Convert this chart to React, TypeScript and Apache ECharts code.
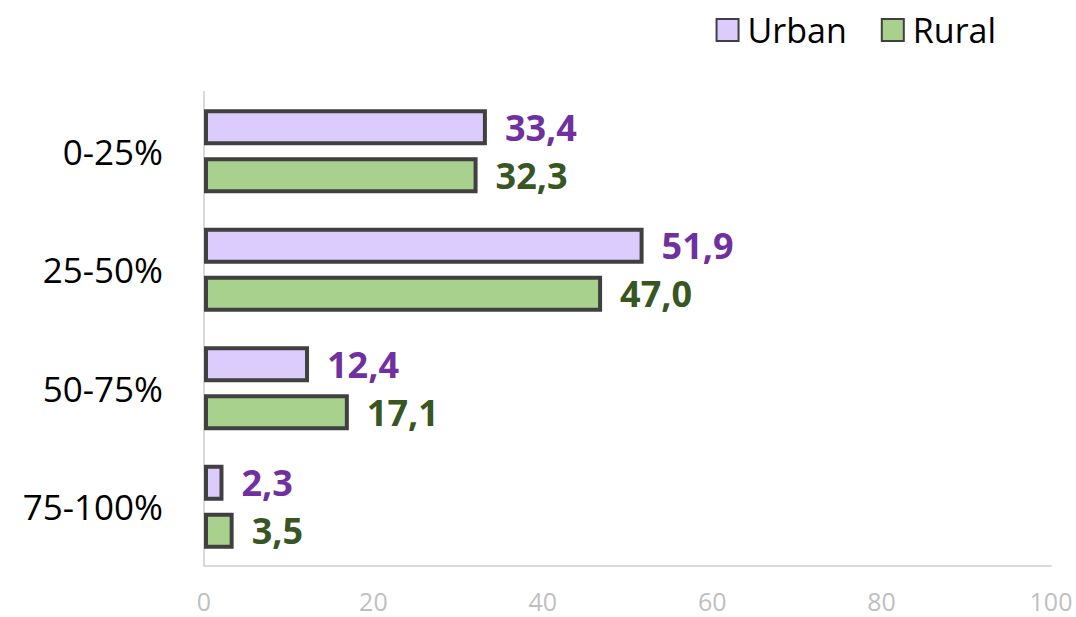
import React, { useEffect, useRef } from "react";
import * as echarts from "echarts";

const categories = ["0-25%", "25-50%", "50-75%", "75-100%"];
const urbanValues = [33.4, 51.9, 12.4, 2.3];
const ruralValues = [32.3, 47.0, 17.1, 3.5];
const seriesNames = ["Urban", "Rural"];

const fmt = (v: number) => v.toFixed(1).replace(".", ",");

export default function App() {
  const ref = useRef<HTMLDivElement>(null);
  useEffect(() => {
    const chart = echarts.init(ref.current!, null, { renderer: "svg" });
    const font = "'Open Sans', 'Noto Sans', sans-serif";
    chart.setOption({
      animation: false,
      legend: {
        right: 75,
        top: 8,
        icon: "rect",
        itemWidth: 22,
        itemHeight: 22,
        itemGap: 34,
        textStyle: { fontSize: 34, color: "#000", fontFamily: font, padding: [0, 0, 0, 4] },
        data: seriesNames,
      },
      grid: { left: 204, right: 25, top: 92, bottom: 51, containLabel: false },
      xAxis: {
        type: "value",
        min: 0,
        max: 100,
        interval: 20,
        axisLine: { show: true, lineStyle: { color: "#d9d9d9", width: 2 } },
        axisTick: { show: false },
        splitLine: { show: false },
        axisLabel: { color: "#bfbfbf", fontSize: 25, margin: 22, fontFamily: font },
      },
      yAxis: {
        type: "category",
        inverse: true,
        data: categories,
        axisLine: { show: true, lineStyle: { color: "#d9d9d9", width: 2 } },
        axisTick: { show: false },
        axisLabel: { color: "#000", fontSize: 35, margin: 41, fontFamily: font },
      },
      series: [
        {
          name: seriesNames[0],
          type: "bar",
          data: urbanValues,
          barWidth: 36,
          barGap: "33%",
          itemStyle: { color: "#dccbfd", borderColor: "#404040", borderWidth: 4 },
          label: {
            show: true,
            position: "right",
            distance: 18,
            formatter: (p: any) => fmt(p.value),
            color: "#7030a0",
            fontWeight: "bold",
            fontSize: 36,
            fontFamily: font,
          },
        },
        {
          name: seriesNames[1],
          type: "bar",
          data: ruralValues,
          barWidth: 36,
          itemStyle: { color: "#a9d18e", borderColor: "#404040", borderWidth: 4 },
          label: {
            show: true,
            position: "right",
            distance: 18,
            formatter: (p: any) => fmt(p.value),
            color: "#375623",
            fontWeight: "bold",
            fontSize: 36,
            fontFamily: font,
          },
        },
      ],
    });
    return () => chart.dispose();
  }, []);
  return (
    <div
      ref={ref}
      style={{ position: "absolute", left: 0, top: 0, width: 1076, height: 617 }}
    />
  );
}
